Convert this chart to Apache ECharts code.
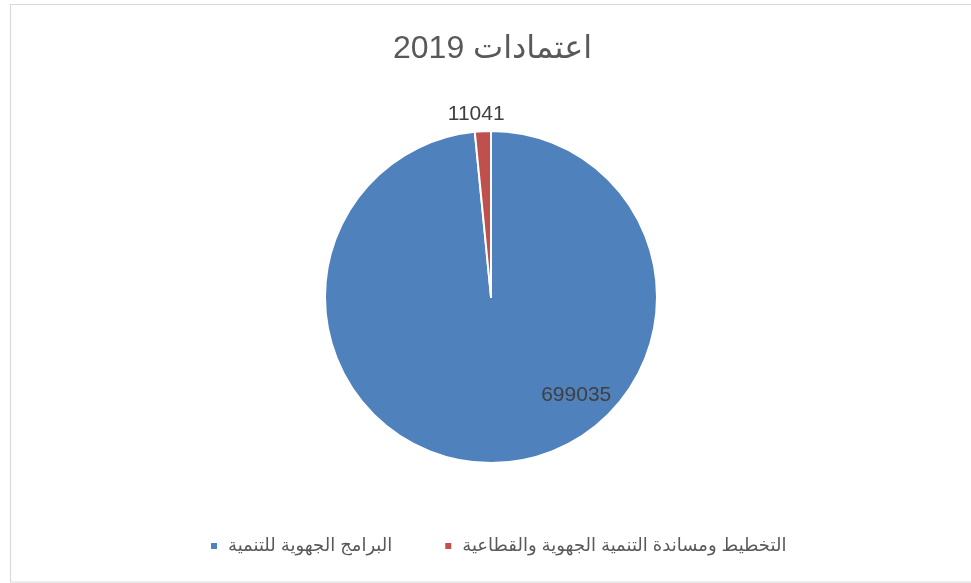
<!DOCTYPE html>
<html>
<head>
<meta charset="utf-8">
<script src="https://cdn.jsdelivr.net/npm/echarts@6/dist/echarts.min.js"></script>
<style>
  html, body { margin: 0; padding: 0; background: #ffffff; }
  #chart { width: 971px; height: 583px; }
</style>
</head>
<body>
<div id="chart"></div>
<script>
// Budget allocations for 2019, by programme
const titleText = '2019 اعتمادات';
const categories = [
  'البرامج الجهوية للتنمية',
  'التخطيط ومساندة التنمية الجهوية والقطاعية'
];
const values = [699035, 11041];
const colors = ['#4F81BD', '#C0504D'];

const fontStack = 'Arial, "Liberation Sans", "DejaVu Sans", sans-serif';

const chart = echarts.init(document.getElementById('chart'), null, { renderer: 'canvas' });

const pieData = categories.map((name, i) => ({
  name: name,
  value: values[i],
  itemStyle: { color: colors[i] },
  label: i === 0
    ? { position: 'inside' }
    : { position: 'outside' }
}));

// Nudge the value labels into their usual spots
const labelShift = [
  { dx: 81, dy: 12 },
  { dx: 27, dy: -11 }
];

chart.setOption({
  animation: false,
  backgroundColor: '#ffffff',
  graphic: [{
    type: 'rect',
    shape: { x: 10.5, y: 4.5, width: 980, height: 577.5 },
    style: { fill: 'none', stroke: '#d9d9d9', lineWidth: 1.2 },
    silent: true,
    z: 0
  }],
  title: {
    text: titleText,
    left: 388,
    top: 28,
    textStyle: {
      fontFamily: fontStack,
      fontSize: 32,
      fontWeight: 'normal',
      color: '#595959'
    }
  },
  legend: {
    bottom: 23,
    left: 204,
    icon: 'rect',
    itemWidth: 8,
    itemHeight: 8,
    itemGap: 51,
    data: categories,
    textStyle: {
      fontFamily: fontStack,
      fontSize: 18,
      color: '#595959',
      padding: [0, 0, 0, 5]
    }
  },
  series: [{
    type: 'pie',
    center: [491, 297],
    radius: 166,
    startAngle: 90,
    clockwise: true,
    avoidLabelOverlap: false,
    itemStyle: { borderColor: '#ffffff', borderWidth: 2 },
    label: {
      show: true,
      formatter: '{c}',
      fontFamily: fontStack,
      fontSize: 21,
      color: '#404040'
    },
    labelLine: { show: false, length: 6, length2: 0 },
    labelLayout: function (params) {
      return labelShift[params.dataIndex];
    },
    emphasis: { disabled: true },
    data: pieData
  }]
});
</script>
</body>
</html>
